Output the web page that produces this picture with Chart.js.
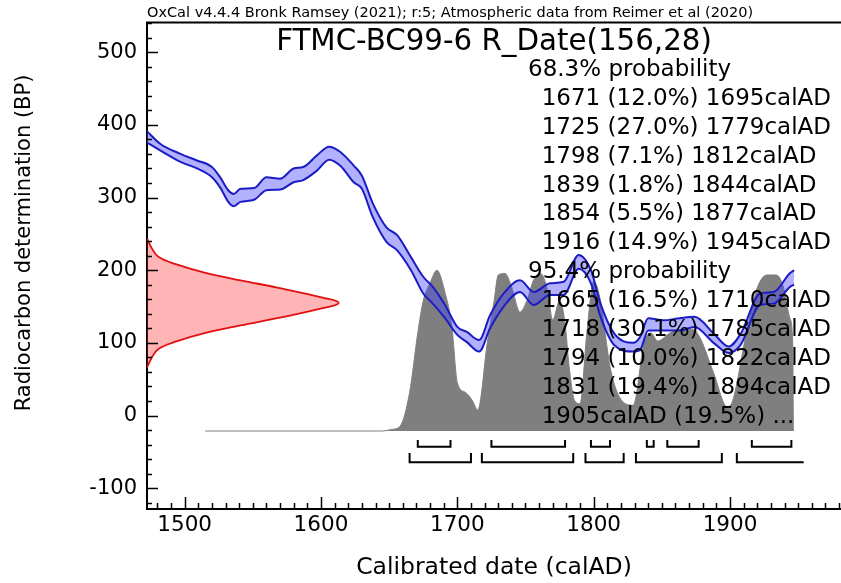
<!DOCTYPE html>
<html>
<head>
<meta charset="utf-8">
<script src="https://cdn.jsdelivr.net/npm/chart.js@4.4.1/dist/chart.umd.min.js"></script>
<style>
  html, body { margin: 0; padding: 0; background: #fff; }
  canvas { display: block; }
</style>
</head>
<body>
<canvas id="oxcal" width="841" height="583"></canvas>
<script>
// calibration curve band (BP), upper and lower edge
var curveYears = [1472, 1482, 1497, 1509, 1520, 1526, 1532, 1536, 1541, 1551, 1560, 1570, 1580, 1587, 1597, 1606, 1614, 1624, 1630, 1638,
                  1648, 1656, 1666, 1675, 1682, 1691, 1700, 1707, 1716, 1724, 1734, 1746, 1756, 1768, 1778, 1789, 1798, 1805, 1815, 1829,
                  1834, 1840, 1851, 1863, 1874, 1888, 1899, 1908, 1922, 1932, 1944, 1947];
var curveUpper = [392, 374, 360, 351, 342, 328, 310, 305, 312, 313, 328, 326, 340, 342, 358, 370, 363, 344, 330, 292,
                  259, 248, 218, 191, 177, 152, 122, 115, 104, 138, 168, 186, 170, 182, 184, 221, 200, 154, 113, 100,
                  108, 134, 131, 134, 136, 113, 95, 113, 168, 170, 196, 200];
var curveLower = [376, 365, 349, 340, 328, 314, 294, 288, 294, 297, 310, 311, 321, 324, 337, 352, 344, 321, 312, 273,
                  239, 227, 200, 168, 154, 134, 111, 101, 88, 120, 150, 170, 152, 166, 166, 202, 182, 136, 97, 88,
                  90, 117, 117, 117, 122, 100, 86, 98, 152, 154, 177, 180];

// calibrated date, relative probability
var probYears = [1515, 1645, 1652, 1658, 1665, 1671, 1675, 1680, 1685, 1691, 1696, 1700, 1706, 1711, 1715, 1722, 1727, 1730, 1735, 1740,
                 1746, 1751, 1756, 1761, 1766, 1770, 1775, 1779, 1782, 1786, 1790, 1795, 1800, 1805, 1812, 1819, 1829, 1837, 1842, 1847,
                 1856, 1863, 1873, 1878, 1888, 1898, 1902, 1912, 1920, 1927, 1934, 1939, 1944, 1946, 1946.5];
var probValues = [0, 0, 0.01, 0.03, 0.24, 0.61, 0.81, 0.92, 1.0, 0.86, 0.65, 0.30, 0.24, 0.19, 0.13, 0.55, 0.81, 0.97, 0.98, 0.89,
                  0.74, 0.81, 0.94, 0.98, 0.88, 0.69, 0.81, 0.67, 0.40, 0.19, 0.17, 0.61, 0.93, 0.81, 0.40, 0.21, 0.16, 0.55, 0.61, 0.56,
                  0.61, 0.63, 0.63, 0.58, 0.36, 0.15, 0.19, 0.61, 0.89, 0.97, 0.97, 0.90, 0.70, 0.55, 0];

var dateBP    = [244, 230, 218, 208, 196, 186, 176, 162, 155, 148, 134, 124, 114, 102, 92, 80, 66];
var dateYears = [1472.4, 1476, 1481, 1494, 1516, 1541, 1568, 1602, 1613, 1602, 1568, 1541, 1516, 1494, 1481, 1476, 1472.4];

// ranges: from, to (null = open), percent
var range68 = [[1671, 1695, 12.0], [1725, 1779, 27.0], [1798, 1812, 7.1], [1839, 1844, 1.8], [1854, 1877, 5.5], [1916, 1945, 14.9]];
var range95 = [[1665, 1710, 16.5], [1718, 1785, 30.1], [1794, 1822, 10.0], [1831, 1894, 19.4], [1905, null, 19.5]];

var xTicks = [1500, 1600, 1700, 1800, 1900];
var yTicks = [-100, 0, 100, 200, 300, 400, 500];

var FONT = 'DejaVu Sans';
var PROB_BASE = -21.3;
var PROB_HEIGHT = 221.3;
var OPEN_END = 1954;

function brackets(ranges, low, high) {
    var pts = [];
    ranges.forEach(function (r) {
        var end = r[1] === null ? OPEN_END : r[1];
        pts.push({ x: r[0], y: high }, { x: r[0], y: low }, { x: end, y: low });
        if (r[1] !== null) pts.push({ x: end, y: high });
        pts.push({ x: end, y: null });
    });
    return pts;
}

function rangeText(r) {
    if (r[1] === null) return r[0] + 'calAD (' + r[2].toFixed(1) + '%) ...';
    return r[0] + ' (' + r[2].toFixed(1) + '%) ' + r[1] + 'calAD';
}

// inward ticks, top frame line and the OxCal texts
var decor = {
    id: 'decor',
    afterDatasetsDraw: function (chart) {
        var ctx = chart.ctx, a = chart.chartArea, x = chart.scales.x, y = chart.scales.y;
        var v, p, len;
        ctx.save();
        ctx.strokeStyle = '#000';
        ctx.lineWidth = 1.5;
        ctx.beginPath();
        for (v = 1480; v <= x.max; v += 10) {
            p = Math.round(x.getPixelForValue(v)) + 0.5;
            len = v % 100 === 0 ? 12 : 6;
            ctx.moveTo(p, a.bottom);
            ctx.lineTo(p, a.bottom - len);
        }
        for (v = -120; v <= y.max; v += 20) {
            p = Math.round(y.getPixelForValue(v)) + 0.5;
            len = v % 100 === 0 ? 11 : 5;
            ctx.moveTo(a.left, p);
            ctx.lineTo(a.left + len, p);
        }
        ctx.stroke();
        ctx.lineWidth = 2;
        ctx.beginPath();
        ctx.moveTo(a.left - 1, a.top);
        ctx.lineTo(a.right, a.top);
        ctx.stroke();

        ctx.fillStyle = '#000';
        ctx.textBaseline = 'alphabetic';
        ctx.textAlign = 'left';
        ctx.font = '14.5px "' + FONT + '"';
        ctx.fillText('OxCal v4.4.4 Bronk Ramsey (2021); r:5; Atmospheric data from Reimer et al (2020)', a.left, 17);

        ctx.textAlign = 'center';
        ctx.textBaseline = 'middle';
        ctx.font = '29.3px "' + FONT + '"';
        ctx.fillText('FTMC-BC99-6 R_Date(156,28)', (a.left + a.right) / 2, 42);

        // y axis title, a bit above the axis middle as in OxCal
        ctx.save();
        ctx.translate(25, 243);
        ctx.rotate(-Math.PI / 2);
        ctx.font = '21px "' + FONT + '"';
        ctx.fillText('Radiocarbon determination (BP)', 0, 0);
        ctx.restore();

        ctx.textAlign = 'left';
        ctx.font = '23px "' + FONT + '"';
        var lines = [[528, '68.3% probability']];
        range68.forEach(function (r) { lines.push([541.7, rangeText(r)]); });
        lines.push([528, '95.4% probability']);
        range95.forEach(function (r) { lines.push([541.7, rangeText(r)]); });
        lines.forEach(function (l, i) {
            ctx.fillText(l[1], l[0], 70 + i * 28.9);
        });
        ctx.restore();
    }
};

var blueLine = '#1c1cc4';
var config = {
    type: 'line',
    data: {
        datasets: [
            {
                label: 'curve upper',
                data: curveYears.map(function (yr, i) { return { x: yr, y: curveUpper[i] }; }),
                borderColor: blueLine,
                borderWidth: 2,
                cubicInterpolationMode: 'monotone',
                fill: false
            },
            {
                label: 'curve lower',
                data: curveYears.map(function (yr, i) { return { x: yr, y: curveLower[i] }; }),
                borderColor: blueLine,
                borderWidth: 2,
                backgroundColor: 'rgba(70, 70, 255, 0.42)',
                cubicInterpolationMode: 'monotone',
                fill: '-1'
            },
            {
                label: 'R_Date',
                data: dateYears.map(function (yr, i) { return { x: yr, y: dateBP[i] }; }),
                borderColor: '#e01010',
                borderWidth: 1.8,
                backgroundColor: 'rgba(255, 30, 30, 0.33)',
                tension: 0.4,
                fill: 'shape'
            },
            {
                label: '68.3%',
                data: brackets(range68, -42.9, -33.7),
                borderColor: '#000',
                borderWidth: 2,
                spanGaps: false,
                fill: false
            },
            {
                label: '95.4%',
                data: brackets(range95, -64.3, -51.5),
                borderColor: '#000',
                borderWidth: 2,
                spanGaps: false,
                fill: false
            },
            {
                label: 'probability',
                data: probYears.map(function (yr, i) { return { x: yr, y: PROB_BASE + probValues[i] * PROB_HEIGHT }; }),
                borderColor: '#7f7f7f',
                borderWidth: 1,
                backgroundColor: '#7f7f7f',
                cubicInterpolationMode: 'monotone',
                fill: { target: { value: PROB_BASE } }
            }
        ]
    },
    options: {
        responsive: false,
        animation: false,
        devicePixelRatio: 1,
        layout: { padding: { top: 22, right: 0, left: 0, bottom: 0 } },
        elements: { point: { radius: 0 }, line: { tension: 0 } },
        plugins: {
            legend: { display: false },
            tooltip: { enabled: false }
        },
        scales: {
            x: {
                type: 'linear',
                min: 1472.4,
                max: 1981.4,
                grid: { display: false, drawTicks: false },
                border: { display: true, color: '#000', width: 2 },
                afterBuildTicks: function (scale) {
                    scale.ticks = xTicks.map(function (v) { return { value: v }; });
                },
                afterFit: function (scale) { scale.height = 74; },
                ticks: {
                    color: '#000',
                    padding: 4,
                    maxRotation: 0,
                    font: { family: FONT, size: 21.5 },
                    callback: function (value) { return String(value); }
                },
                title: {
                    display: true,
                    text: 'Calibrated date (calAD)',
                    color: '#000',
                    font: { family: FONT, size: 23.5 },
                    padding: { top: 0, bottom: 1 }
                }
            },
            y: {
                type: 'linear',
                min: -128.6,
                max: 540.7,
                grid: { display: false, drawTicks: false },
                border: { display: true, color: '#000', width: 2 },
                afterBuildTicks: function (scale) {
                    scale.ticks = yTicks.map(function (v) { return { value: v }; });
                },
                afterFit: function (scale) { scale.width = 147; },
                ticks: {
                    color: '#000',
                    padding: 10,
                    font: { family: FONT, size: 21 },
                    callback: function (value) { return String(value); }
                }
            }
        }
    },
    plugins: [decor]
};

var chart = new Chart(document.getElementById('oxcal'), config);
</script>
</body>
</html>
